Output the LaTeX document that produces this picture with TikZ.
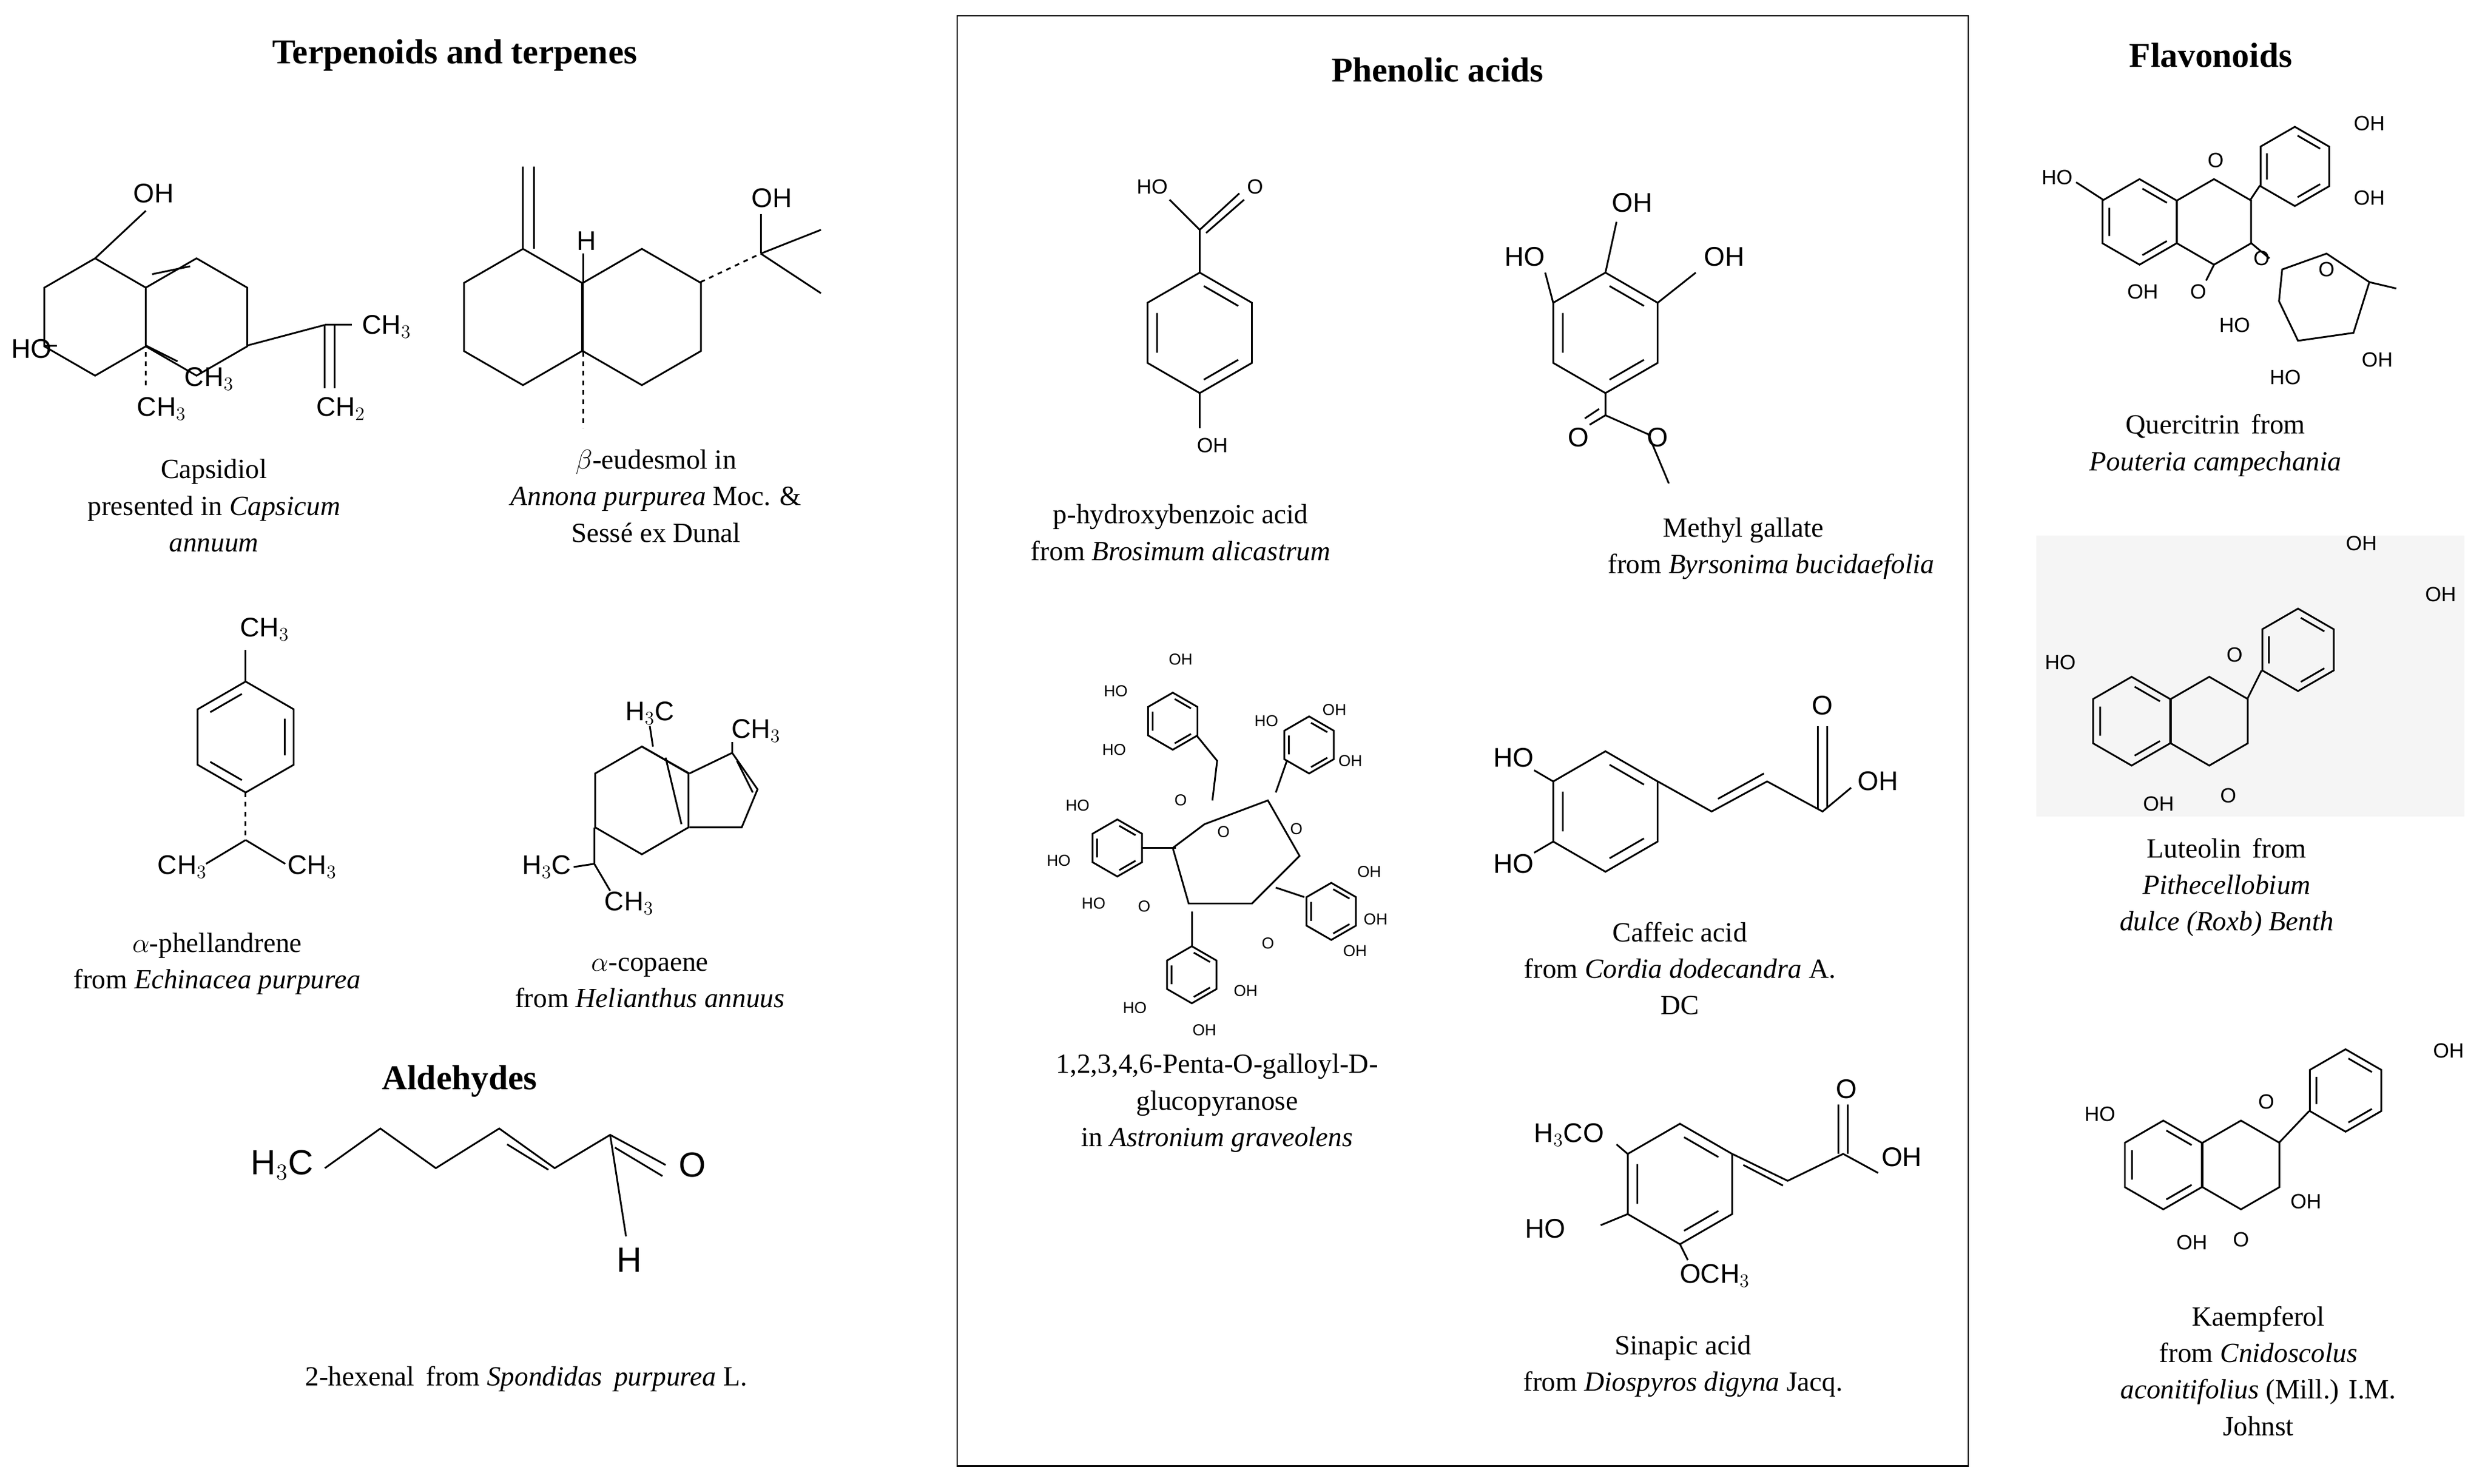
\documentclass[tikz,border=0pt]{standalone}
\usepackage{fontspec}
\setmainfont{Liberation Serif}
\newfontfamily\chem{Liberation Sans}
\newcommand\hexg[4]{\draw (#1,#2) +(#4:#3) -- +(#4+60:#3) -- +(#4+120:#3) -- +(#4+180:#3) -- +(#4+240:#3) -- +(#4+300:#3) -- cycle;}
\newcommand\arom[4]{\draw (#1,#2) +(#4+5:0.78*#3) -- +(#4+55:0.78*#3) +(#4+125:0.78*#3) -- +(#4+175:0.78*#3) +(#4+245:0.78*#3) -- +(#4+295:0.78*#3);}
\begin{document}
\begin{tikzpicture}[x=1pt,y=-1pt,line width=1.1pt,
 capt/.style={font=\fontsize{17.5}{23}\selectfont,align=center},
 ttl/.style={font=\fontsize{22}{26}\selectfont\bfseries},
 lb/.style={font=\chem\fontsize{17}{19}\selectfont,inner sep=1pt},
 sl/.style={font=\chem\fontsize{13}{15}\selectfont,inner sep=1pt},
 tl/.style={font=\chem\fontsize{10}{12}\selectfont,inner sep=0.5pt}]
\useasboundingbox (0,0) rectangle (1568,936);
\fill[white] (0,0) rectangle (1568,936);
% titles
\node[ttl] (t1) at (287,35) {Terpenoids and terpenes};
\node[ttl] (t2) at (907,44) {Phenolic acids};
\node[ttl] (t3) at (1395,35) {Flavonoids};
\node[ttl] (t4) at (290,682) {Aldehydes};
\draw[line width=1pt] (604,10) rectangle (1242,925);
% Capsidiol
\hexg{60}{200}{37}{30}
\hexg{124}{200}{37}{30}
\draw (96,173) -- (120,168);
\draw (60,163) -- (92,133); \node[lb] (c1) at (97,122) {OH};
\draw (36,218) -- (28,218); \node[lb] (c2) at (20,220) {HO};
\draw[dashed] (92,222) -- (92,245); \node[lb] (c3) at (102,258) {CH$_3$};
\draw (92,218) -- (112,228); \node[lb] (c4) at (132,239) {CH$_3$};
\draw (156,218) -- (205,205); \draw (205,205) -- (222,205); \node[lb] (c5) at (244,206) {CH$_3$};
\draw (205,205) -- (205,245); \draw (211,205) -- (211,245); \node[lb] (c6) at (215,258) {CH$_2$};
\node[capt] (k1) at (135,319) {Capsidiol\\presented in \textit{Capsicum}\\\textit{annuum}};
% beta-eudesmol
\hexg{330}{200}{43}{30}
\hexg{405}{200}{43}{30}
\draw (330,157) -- (330,105); \draw (337,157) -- (337,105);
\draw (368,178) -- (368,160); \node[lb] (e1) at (370,152) {H};
\draw[dashed] (368,222) -- (368,270);
\draw[dashed] (442,178) -- (480,160);
\draw (480,160) -- (480,135); \node[lb] (e2) at (487,125) {OH};
\draw (480,160) -- (518,145); \draw (480,160) -- (518,185);
\node[capt] (k2) at (414,313) {$\beta$-eudesmol in\\\textit{Annona purpurea} Moc. \&\\Sessé ex Dunal};
% alpha-phellandrene
\hexg{155}{465}{35}{30}
\arom{155}{465}{35}{90}
\draw (155,430) -- (155,410); \node[lb] (p1) at (167,397) {CH$_3$};
\draw[dashed] (155,500) -- (155,530);
\draw (155,530) -- (130,545); \draw (155,530) -- (180,545);
\node[lb] (p2) at (115,547) {CH$_3$}; \node[lb] (p3) at (197,547) {CH$_3$};
\node[capt] (k3) at (137,608) {$\alpha$-phellandrene\\from \textit{Echinacea purpurea}};
% alpha-copaene
\hexg{405}{505}{34}{30}
\draw (435,488) -- (462,475) -- (478,498) -- (468,522) -- (435,522);
\draw (465,480) -- (475,500);
\draw (405,471) -- (435,488); \draw (420,478) -- (430,520);
\draw (412,471) -- (410,458); \node[lb] (a1) at (410,450) {H$_3$C};
\draw (462,475) -- (462,468); \node[lb] (a2) at (477,461) {CH$_3$};
\draw (375,522) -- (375,545); \draw (375,545) -- (362,547); \draw (375,545) -- (385,562);
\node[lb] (a3) at (345,547) {H$_3$C}; \node[lb] (a4) at (397,570) {CH$_3$};
\node[capt] (k4) at (410,620) {$\alpha$-copaene\\from \textit{Helianthus annuus}};
% 2-hexenal
\node[lb,font=\chem\fontsize{22}{24}\selectfont] (h1) at (178,735) {H$_3$C};
\draw (205,737) -- (240,712) -- (275,737) -- (315,712) -- (350,737) -- (385,716) -- (420,735);
\draw (320,722) -- (346,738);
\draw (388,724) -- (418,742);
\draw (385,716) -- (395,780);
\node[lb,font=\chem\fontsize{22}{24}\selectfont] (h2) at (437,735) {O};
\node[lb,font=\chem\fontsize{22}{24}\selectfont] (h3) at (397,795) {H};
\node[capt] (k5) at (332,870) {2-hexenal\, from \textit{Spondidas\, purpurea} L.};
% p-hydroxybenzoic
\hexg{757}{210}{38}{30}
\arom{757}{210}{38}{30}
\draw (757,172) -- (757,145) -- (738,126); \draw (757,145) -- (782,122); \draw (761,147) -- (785,126);
\node[tl,font=\chem\fontsize{13}{14}\selectfont] (b1) at (727,118) {HO}; \node[tl,font=\chem\fontsize{13}{14}\selectfont] (b2) at (792,118) {O};
\draw (757,248) -- (757,270); \node[tl,font=\chem\fontsize{13}{14}\selectfont] (b3) at (765,281) {OH};
\node[capt] (k6) at (745,336) {p-hydroxybenzoic acid\\from \textit{Brosimum alicastrum}};
% methyl gallate
\hexg{1013}{210}{38}{30}
\arom{1013}{210}{38}{30}
\draw (1013,172) -- (1020,140); \node[lb] (m1) at (1030,128) {OH};
\draw (980,191) -- (975,172); \node[lb] (m2) at (962,162) {HO};
\draw (1046,191) -- (1070,172); \node[lb] (m3) at (1088,162) {OH};
\draw (1013,248) -- (1013,262) -- (1003,268); \draw (1009,258) -- (1000,264); \draw (1013,262) -- (1040,274) -- (1053,305);
\node[lb] (m4) at (996,276) {O}; \node[lb] (m5) at (1046,276) {O};
\node[capt] (k7) at (1100,346) {Methyl gallate\\\hspace*{2em}from \textit{Byrsonima bucidaefolia}};
% PGG
\draw (760,520) -- (800,505) -- (820,540) -- (790,570) -- (750,570) -- (740,535) -- cycle;
\hexg{740}{455}{18}{30} \arom{740}{455}{18}{30}
\hexg{826}{470}{18}{30} \arom{826}{470}{18}{30}
\hexg{705}{535}{18}{30} \arom{705}{535}{18}{30}
\hexg{840}{575}{18}{30} \arom{840}{575}{18}{30}
\hexg{752}{615}{18}{30} \arom{752}{615}{18}{30}
\draw (755,464) -- (768,480) -- (765,505);
\draw (812,480) -- (805,500);
\draw (721,535) -- (742,535);
\draw (823,566) -- (805,560);
\draw (752,597) -- (752,575);
\node[tl] at (745,416) {OH}; \node[tl] at (704,436) {HO}; \node[tl] at (703,473) {HO};
\node[tl] at (842,448) {OH}; \node[tl] at (799,455) {HO}; \node[tl] at (852,480) {OH};
\node[tl] at (680,508) {HO}; \node[tl] at (668,543) {HO}; \node[tl] at (690,570) {HO};
\node[tl] at (864,550) {OH}; \node[tl] at (868,580) {OH}; \node[tl] at (855,600) {OH};
\node[tl] at (716,636) {HO}; \node[tl] at (760,650) {OH}; \node[tl] at (786,625) {OH};
\node[tl] at (722,572) {O}; \node[tl] at (745,505) {O}; \node[tl] at (818,523) {O}; \node[tl] at (800,595) {O}; \node[tl] at (772,525) {O};
\node[capt] (k8) at (768,696) {1,2,3,4,6-Penta-O-galloyl-D-\\glucopyranose\\in \textit{Astronium graveolens}};
% caffeic
\hexg{1013}{512}{38}{30}
\arom{1013}{512}{38}{30}
\draw (980,493) -- (968,486); \node[lb] (f1) at (955,478) {HO};
\draw (980,531) -- (968,538); \node[lb] (f2) at (955,545) {HO};
\draw (1046,493) -- (1080,512) -- (1115,493) -- (1150,512) -- (1168,497);
\draw (1084,504) -- (1113,488);
\draw (1147,510) -- (1147,458); \draw (1153,510) -- (1153,458);
\node[lb] (f3) at (1150,445) {O}; \node[lb] (f4) at (1185,493) {OH};
\node[capt] (k9) at (1060,611) {Caffeic acid\\from \textit{Cordia dodecandra} A.\\DC};
% sinapic
\hexg{1060}{747}{38}{30}
\arom{1060}{747}{38}{30}
\draw (1027,728) -- (1020,722); \node[lb] (s1) at (990,716) {H$_3$CO};
\draw (1027,766) -- (1010,773); \node[lb] (s2) at (975,775) {HO};
\draw (1060,785) -- (1065,795); \node[lb] (s3) at (1082,805) {OCH$_3$};
\draw (1093,728) -- (1128,745) -- (1163,728) -- (1185,740);
\draw (1100,735) -- (1125,748);
\draw (1160,728) -- (1160,697); \draw (1166,728) -- (1166,697);
\node[lb] (s4) at (1165,687) {O}; \node[lb] (s5) at (1200,730) {OH};
\node[capt] (k10) at (1062,862) {Sinapic acid\\from \textit{Diospyros digyna} Jacq.};
% Quercitrin
\hexg{1350}{140}{27}{30} \arom{1350}{140}{27}{30}
\hexg{1397}{140}{27}{30}
\hexg{1448}{105}{25}{30} \arom{1448}{105}{25}{30}
\draw (1420,126) -- (1426,117);
\node[sl] (q1) at (1298,112) {HO}; \draw (1310,115) -- (1327,126);
\node[sl] (q2) at (1352,184) {OH};
\node[sl] (q3) at (1387,184) {O}; \draw (1397,167) -- (1392,177);
\node[sl] (q4) at (1398,101) {O};
\node[sl] (q5) at (1495,78) {OH}; \node[sl] (q6) at (1495,125) {OH};
\draw (1420,153) -- (1432,163); \node[sl] (q7) at (1427,163) {O};
\draw (1440,170) -- (1468,160) -- (1495,178) -- (1485,210) -- (1450,215) -- (1438,190) -- cycle;
\node[sl] (q8) at (1468,170) {O};
\draw (1495,178) -- (1512,182);
\node[sl] (q9) at (1410,205) {HO}; \node[sl] (q10) at (1442,238) {HO}; \node[sl] (q11) at (1500,227) {OH};
\node[capt] (k11) at (1398,281) {Quercitrin\, from\\\textit{Pouteria campechania}};
% Luteolin
\fill[black!4] (1285,338) rectangle (1555,515);
\hexg{1345}{455}{28}{30} \arom{1345}{455}{28}{30}
\hexg{1394}{455}{28}{30}
\hexg{1450}{410}{26}{30} \arom{1450}{410}{26}{30}
\draw (1418,441) -- (1427,423);
\node[sl] (l1) at (1300,418) {HO}; \node[sl] (l2) at (1362,507) {OH}; \node[sl] (l3) at (1406,502) {O};
\node[sl] (l4) at (1410,413) {O}; \node[sl] (l5) at (1490,343) {OH}; \node[sl] (l6) at (1540,375) {OH};
\node[capt] (k12) at (1405,560) {Luteolin\, from\\\textit{Pithecellobium}\\\textit{dulce (Roxb) Benth}};
% Kaempferol
\hexg{1365}{735}{28}{30} \arom{1365}{735}{28}{30}
\hexg{1414}{735}{28}{30}
\hexg{1480}{688}{26}{30} \arom{1480}{688}{26}{30}
\draw (1438,721) -- (1457,701);
\node[sl] (m6) at (1325,703) {HO}; \node[sl] (m7) at (1383,784) {OH}; \node[sl] (m8) at (1414,782) {O};
\node[sl] (m9) at (1430,695) {O}; \node[sl] (m10) at (1455,758) {OH}; \node[sl] (m11) at (1545,663) {OH};
\node[capt] (k13) at (1425,865) {Kaempferol\\from \textit{Cnidoscolus}\\\textit{aconitifolius} (Mill.) I.M.\\Johnst};
\end{tikzpicture}
\end{document}
